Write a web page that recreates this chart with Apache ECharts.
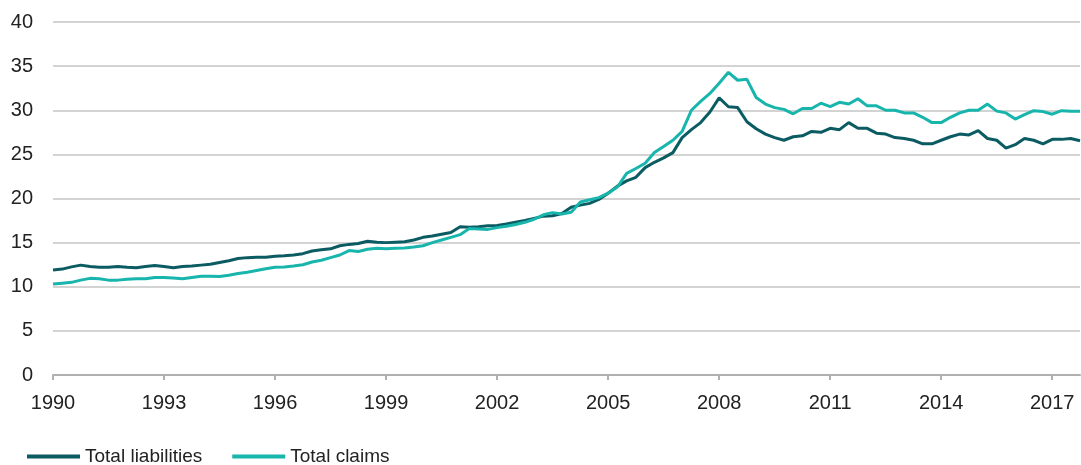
<!DOCTYPE html>
<html>
<head>
<meta charset="utf-8">
<script src="https://cdn.jsdelivr.net/npm/echarts@6/dist/echarts.min.js"></script>
<style>
  html, body { margin: 0; padding: 0; background: #fff; }
  #chart { width: 1081px; height: 465px; }
</style>
</head>
<body>
<div id="chart"></div>
<script>
// quarterly values, 1990Q1 .. 2017Q4
const startYear = 1990;
const yearTicks = [1990, 1993, 1996, 1999, 2002, 2005, 2008, 2011, 2014, 2017];

const liabilities = [
  11.9, 12.0, 12.25, 12.45,
  12.3, 12.2, 12.2, 12.3,
  12.2, 12.15, 12.3, 12.4,
  12.3, 12.15, 12.3, 12.35,
  12.45, 12.55, 12.75, 12.95,
  13.2, 13.3, 13.35, 13.35,
  13.45, 13.5, 13.6, 13.75,
  14.05, 14.2, 14.3, 14.65,
  14.8, 14.9, 15.15, 15.05,
  15.0, 15.05, 15.1, 15.3,
  15.6, 15.75, 15.95, 16.15,
  16.8, 16.75, 16.8, 16.9,
  16.95, 17.1, 17.3, 17.5,
  17.75, 18.0, 18.05, 18.3,
  19.0, 19.25, 19.45, 19.9,
  20.6, 21.4, 22.0, 22.4,
  23.5, 24.1, 24.6, 25.2,
  26.9, 27.8, 28.6, 29.8,
  31.4, 30.4, 30.3, 28.7,
  27.9, 27.3, 26.9, 26.6,
  27.0, 27.1, 27.6, 27.5,
  27.95, 27.8, 28.6, 27.95,
  27.95, 27.4, 27.3, 26.9,
  26.8, 26.6, 26.2, 26.2,
  26.6, 27.0, 27.3, 27.2,
  27.7, 26.8, 26.6, 25.7,
  26.1, 26.8, 26.6, 26.2,
  26.7, 26.7, 26.8, 26.55
];

const claims = [
  10.3, 10.4, 10.5, 10.75,
  10.95, 10.9, 10.75, 10.75,
  10.85, 10.9, 10.9, 11.05,
  11.05, 11.0, 10.9, 11.05,
  11.2, 11.2, 11.15, 11.3,
  11.5, 11.65, 11.85, 12.05,
  12.2, 12.25, 12.35, 12.5,
  12.8, 13.0, 13.3, 13.6,
  14.1, 14.0, 14.25, 14.35,
  14.3, 14.35, 14.4, 14.5,
  14.65, 15.0, 15.3, 15.6,
  15.9, 16.6, 16.55, 16.5,
  16.7, 16.85, 17.05, 17.3,
  17.65, 18.15, 18.4, 18.25,
  18.45, 19.6, 19.85, 20.1,
  20.6, 21.3, 22.85, 23.4,
  24.0, 25.2, 25.9, 26.6,
  27.6, 30.0, 31.0, 31.9,
  33.05, 34.3, 33.4, 33.5,
  31.45, 30.7, 30.3, 30.1,
  29.6, 30.2, 30.2, 30.8,
  30.4, 30.9, 30.7, 31.3,
  30.5, 30.5, 30.0, 30.0,
  29.7, 29.7, 29.2, 28.6,
  28.6, 29.2, 29.7, 30.0,
  30.0, 30.7, 29.9, 29.7,
  29.0, 29.5, 29.95, 29.85,
  29.55, 29.95, 29.9, 29.9
];

const toPairs = arr => arr.map((v, i) => [startYear + i / 4, v]);

const chart = echarts.init(document.getElementById('chart'));
const textColor = '#222';
const font = 'Liberation Sans, Arial, sans-serif';

chart.setOption({
  animation: false,
  grid: { left: 53, right: 1, top: 22, bottom: 90 },
  legend: {
    left: 27,
    top: 447,
    padding: 0,
    icon: 'rect',
    itemWidth: 53,
    itemHeight: 4,
    itemGap: 30,
    textStyle: { color: textColor, fontSize: 19, fontFamily: font },
    data: ['Total liabilities', 'Total claims']
  },
  xAxis: {
    type: 'value',
    min: 1990,
    max: 2017.75,
    interval: 3,
    splitLine: { show: false },
    axisLine: { lineStyle: { color: '#b0b0b0', width: 2 } },
    axisTick: { length: 5, lineStyle: { color: '#b0b0b0', width: 2 }, customValues: yearTicks },
    axisLabel: {
      color: textColor, fontSize: 20, fontFamily: font, margin: 18,
      customValues: yearTicks,
      formatter: v => String(v)
    }
  },
  yAxis: {
    type: 'value',
    min: 0,
    max: 40,
    interval: 5,
    axisLine: { show: false },
    axisTick: { show: false },
    splitLine: { lineStyle: { color: '#c4c4c4', width: 1.5 } },
    axisLabel: { color: textColor, fontSize: 20, fontFamily: font, margin: 20 }
  },
  series: [
    {
      name: 'Total liabilities',
      type: 'line',
      symbol: 'none',
      data: toPairs(liabilities),
      itemStyle: { color: '#0b5b62' },
      lineStyle: { color: '#0b5b62', width: 3 }
    },
    {
      name: 'Total claims',
      type: 'line',
      symbol: 'none',
      data: toPairs(claims),
      itemStyle: { color: '#17b5ab' },
      lineStyle: { color: '#17b5ab', width: 3 }
    }
  ]
});
</script>
</body>
</html>
